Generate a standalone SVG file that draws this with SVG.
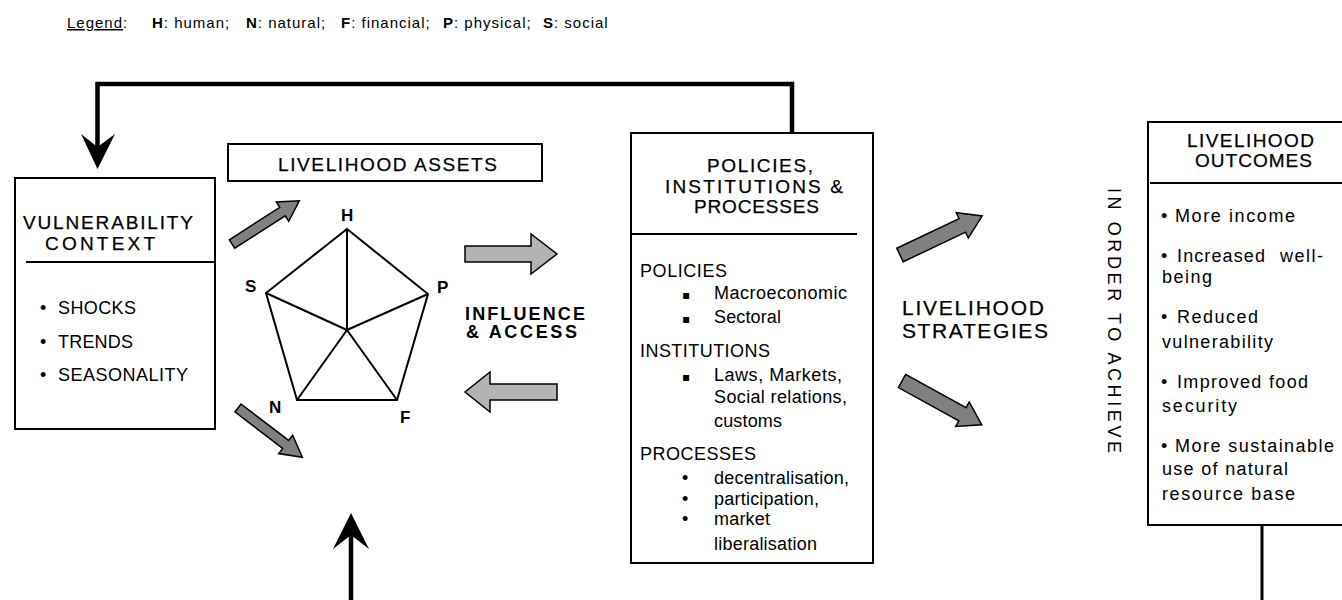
<svg xmlns="http://www.w3.org/2000/svg" width="1342" height="600" viewBox="0 0 1342 600">
<style>
text{font-family:"Liberation Sans",Arial,sans-serif;fill:#000}
.t{font-size:19px;stroke:#000;stroke-width:0.25}
.b{font-size:18px}
.lbl{font-size:17px;font-weight:bold}
.leg{font-size:15px;letter-spacing:1px}
.sq{font-family:"DejaVu Sans",sans-serif;font-size:12px}
.box{fill:#fff;stroke:#000;stroke-width:2}
.ln{stroke:#000;stroke-width:2;fill:none}
.thick{stroke:#000;stroke-width:4.5;fill:none}
.dark{fill:#808080;stroke:#000;stroke-width:1.5;stroke-linejoin:miter}
.light{fill:#b3b3b3;stroke:#000;stroke-width:1.5;stroke-linejoin:miter}
</style>

<g id="legend">
<text class="leg" y="28"><tspan x="67" text-decoration="underline">Legend</tspan><tspan>:</tspan><tspan x="152" font-weight="bold">H</tspan><tspan>: human;</tspan><tspan x="246" font-weight="bold">N</tspan><tspan>: natural;</tspan><tspan x="341" font-weight="bold">F</tspan><tspan>: financial;</tspan><tspan x="443" font-weight="bold">P</tspan><tspan>: physical;</tspan><tspan x="543" font-weight="bold">S</tspan><tspan>: social</tspan></text>
</g>

<g id="connectors">
<path class="thick" d="M97.5,150 V84 H792 V133"/>
<polygon points="97.5,169 81,134 97.5,147 115,134" fill="#000"/>
<path class="thick" d="M351,600 V532"/>
<polygon points="351,513 333,549 351,535 369,549" fill="#000"/>
<path d="M1262,525 V600" stroke="#000" stroke-width="3" fill="none"/>
<polygon class="dark" transform="translate(232,244) rotate(-32.7)" points="0,-5 60,-5 60,-11.5 80,0 60,11.5 60,5 0,5"/>
<polygon class="dark" transform="translate(238,408) rotate(37.4)" points="0,-5 60,-5 60,-11.5 81,0 60,11.5 60,5 0,5"/>
<polygon class="light" points="465,246 531,246 531,234 557,254 531,274 531,262 465,262"/>
<polygon class="light" points="557,384 490,384 490,372 465,392 490,412 490,400 557,400"/>
<polygon class="dark" transform="translate(900,255) rotate(-25.4)" points="0,-7.5 69,-7.5 69,-14 91,0 69,14 69,7.5 0,7.5"/>
<polygon class="dark" transform="translate(902,381) rotate(28.8)" points="0,-7.5 69,-7.5 69,-14 91,0 69,14 69,7.5 0,7.5"/>
</g>

<g id="vulnerability">
<rect class="box" x="15" y="178" width="200" height="251"/>
<line class="ln" x1="26" y1="262" x2="215" y2="262"/>
<text class="t" x="23" y="229" textLength="170" lengthAdjust="spacing">VULNERABILITY</text>
<text class="t" x="45" y="250" textLength="110" lengthAdjust="spacing">CONTEXT</text>
<text class="b" x="40" y="314">•</text><text class="b" x="58" y="314" textLength="78" lengthAdjust="spacing">SHOCKS</text>
<text class="b" x="40" y="348">•</text><text class="b" x="58" y="348" textLength="75" lengthAdjust="spacing">TRENDS</text>
<text class="b" x="40" y="381">•</text><text class="b" x="58" y="381" textLength="130" lengthAdjust="spacing">SEASONALITY</text>
</g>

<g id="assets">
<rect class="box" x="228" y="144" width="314" height="37"/>
<text class="t" x="278" y="171" textLength="219" lengthAdjust="spacing">LIVELIHOOD ASSETS</text>
</g>

<g id="pentagon">
<polygon class="ln" points="347,229 428,294 397,400 297,400 266,293"/>
<path class="ln" d="M347,330 L347,229 M347,330 L428,294 M347,330 L397,400 M347,330 L297,400 M347,330 L266,293"/>
<text class="lbl" x="341" y="221">H</text>
<text class="lbl" x="245" y="292">S</text>
<text class="lbl" x="437" y="293">P</text>
<text class="lbl" x="269" y="413">N</text>
<text class="lbl" x="400" y="423">F</text>
</g>

<g id="influence">
<text font-size="18" font-weight="bold" x="465" y="320" textLength="120" lengthAdjust="spacing">INFLUENCE</text>
<text font-size="18" font-weight="bold" x="466" y="338" textLength="111" lengthAdjust="spacing">&amp; ACCESS</text>
</g>

<g id="policies">
<rect class="box" x="631" y="133" width="242" height="430"/>
<line class="ln" x1="631" y1="234" x2="857" y2="234"/>
<text class="t" x="707" y="172" textLength="106" lengthAdjust="spacing">POLICIES,</text>
<text class="t" x="665" y="193" textLength="178" lengthAdjust="spacing">INSTITUTIONS &amp;</text>
<text class="t" x="694" y="213" textLength="125" lengthAdjust="spacing">PROCESSES</text>
<text class="b" x="640" y="277" textLength="87" lengthAdjust="spacing">POLICIES</text>
<text class="sq" x="682" y="299">▪</text><text class="b" x="714" y="299" textLength="133" lengthAdjust="spacing">Macroeconomic</text>
<text class="sq" x="682" y="323">▪</text><text class="b" x="714" y="323" textLength="67" lengthAdjust="spacing">Sectoral</text>
<text class="b" x="640" y="357" textLength="130" lengthAdjust="spacing">INSTITUTIONS</text>
<text class="sq" x="682" y="381">▪</text><text class="b" x="714" y="381" textLength="128" lengthAdjust="spacing">Laws, Markets,</text>
<text class="b" x="714" y="403" textLength="133" lengthAdjust="spacing">Social relations,</text>
<text class="b" x="714" y="427" textLength="68" lengthAdjust="spacing">customs</text>
<text class="b" x="640" y="460" textLength="116" lengthAdjust="spacing">PROCESSES</text>
<text class="b" x="682" y="484">•</text><text class="b" x="714" y="484" textLength="135" lengthAdjust="spacing">decentralisation,</text>
<text class="b" x="682" y="505">•</text><text class="b" x="714" y="505" textLength="105" lengthAdjust="spacing">participation,</text>
<text class="b" x="682" y="525">•</text><text class="b" x="714" y="525" textLength="56" lengthAdjust="spacing">market</text>
<text class="b" x="714" y="550" textLength="103" lengthAdjust="spacing">liberalisation</text>
</g>

<g id="strategies">
<text x="902" y="315" font-size="21" stroke="#000" stroke-width="0.25" textLength="142" lengthAdjust="spacing">LIVELIHOOD</text>
<text x="902" y="338" font-size="21" stroke="#000" stroke-width="0.25" textLength="146" lengthAdjust="spacing">STRATEGIES</text>
</g>

<g id="achieve">
<text font-size="18" transform="translate(1108,188) rotate(90)" x="0" y="0" textLength="265" lengthAdjust="spacing">IN ORDER TO ACHIEVE</text>
</g>

<g id="outcomes">
<rect class="box" x="1148" y="122" width="200" height="403"/>
<line class="ln" x1="1150" y1="183" x2="1342" y2="183"/>
<text class="t" x="1187" y="147" textLength="127" lengthAdjust="spacing">LIVELIHOOD</text>
<text class="t" x="1195" y="167" textLength="117" lengthAdjust="spacing">OUTCOMES</text>
<text class="b" x="1161" y="222">•</text><text class="b" x="1175" y="222" textLength="120" lengthAdjust="spacing">More income</text>
<text class="b" x="1161" y="262">•</text><text class="b" x="1177" y="262" textLength="88" lengthAdjust="spacing">Increased</text><text class="b" x="1280" y="262" textLength="43" lengthAdjust="spacing">well-</text>
<text class="b" x="1162" y="283" textLength="50" lengthAdjust="spacing">being</text>
<text class="b" x="1161" y="323">•</text><text class="b" x="1177" y="323" textLength="81" lengthAdjust="spacing">Reduced</text>
<text class="b" x="1162" y="348" textLength="111" lengthAdjust="spacing">vulnerability</text>
<text class="b" x="1161" y="388">•</text><text class="b" x="1177" y="388" textLength="131" lengthAdjust="spacing">Improved food</text>
<text class="b" x="1162" y="412" textLength="75" lengthAdjust="spacing">security</text>
<text class="b" x="1161" y="452">•</text><text class="b" x="1175" y="452" textLength="159" lengthAdjust="spacing">More sustainable</text>
<text class="b" x="1162" y="475" textLength="126" lengthAdjust="spacing">use of natural</text>
<text class="b" x="1162" y="500" textLength="133" lengthAdjust="spacing">resource base</text>
</g>
</svg>
